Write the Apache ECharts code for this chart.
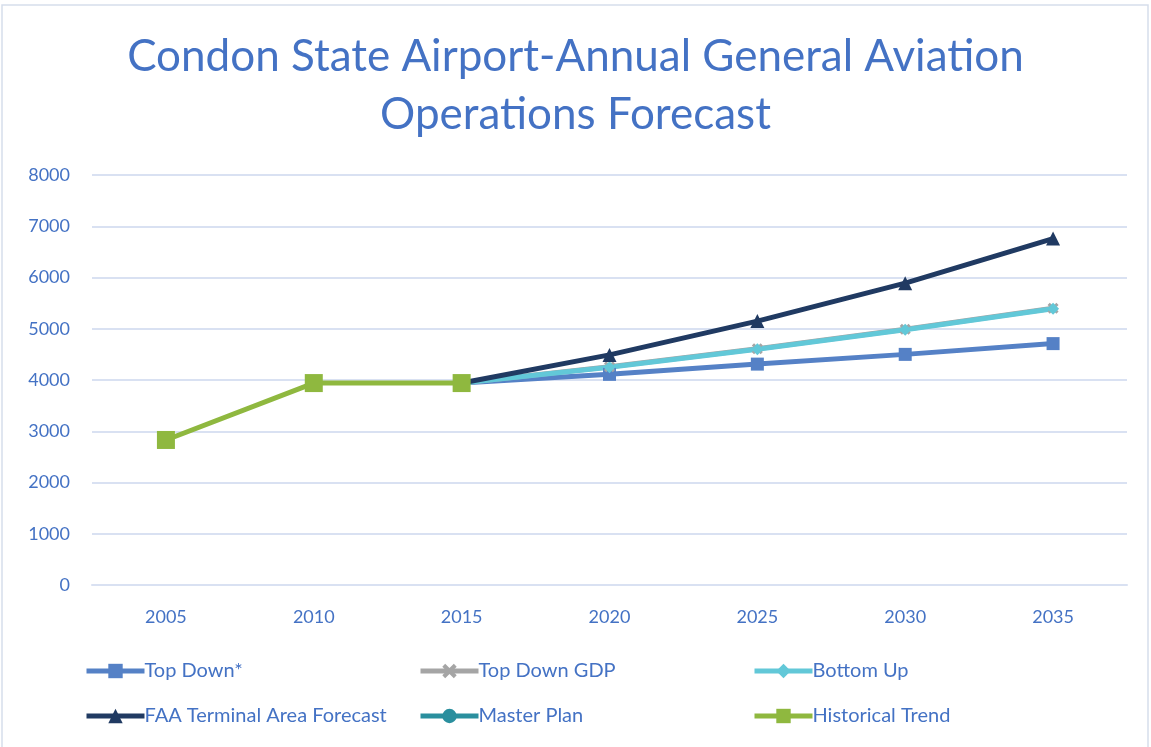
<!DOCTYPE html>
<html>
<head>
<meta charset="utf-8">
<script src="https://cdn.jsdelivr.net/npm/echarts@6/dist/echarts.min.js"></script>
<style>
  html, body { margin: 0; padding: 0; background: #fff; }
  #chart { width: 1151px; height: 747px; }
</style>
</head>
<body>
<div id="chart"></div>
<script>
const years = ['2005', '2010', '2015', '2020', '2025', '2030', '2035'];
const topDown = [null, null, 3940, 4110, 4310, 4500, 4710];
const topDownGdp = [null, null, 3940, 4260, 4610, 4990, 5400];
const bottomUp = [null, null, 3940, 4250, 4600, 4980, 5390];
const faaTaf = [null, null, 3940, 4490, 5150, 5890, 6760];
const masterPlan = [null, null, null, null, null, null, null];
const historical = [2830, 3940, 3940, null, null, null, null];
const yTicks = [0, 1000, 2000, 3000, 4000, 5000, 6000, 7000, 8000];

const textBlue = '#4472C4';
const font = 'Lato';

function line(name, data, color, symbol, size) {
  return {
    name: name,
    type: 'line',
    data: data,
    symbol: symbol,
    symbolSize: size,
    showAllSymbol: true,
    connectNulls: false,
    lineStyle: { color: color, width: 5 },
    itemStyle: { color: color },
    emphasis: { disabled: true },
    animation: false
  };
}

const series = [
  line('Top Down*', topDown, '#5581C6', 'rect', 13),
  line('Top Down GDP', topDownGdp, '#A5A5A5', 'path://M2,0 L5,3 L8,0 L10,2 L7,5 L10,8 L8,10 L5,7 L2,10 L0,8 L3,5 L0,2 Z', 11),
  line('Bottom Up', bottomUp, '#62C8D8', 'diamond', 12),
  line('FAA Terminal Area Forecast', faaTaf, '#203A62', 'triangle', 14),
  line('Master Plan', masterPlan, '#2A8F9E', 'circle', 12),
  line('Historical Trend', historical, '#8FB83F', 'rect', 18)
];

// one legend per entry so the columns line up like the original
const legendPos = [
  [79, 656], [413, 656], [747, 656],
  [79, 701], [413, 701], [747, 701]
];
const legends = series.map((s, i) => ({
  data: [s.name],
  left: legendPos[i][0],
  top: legendPos[i][1],
  itemWidth: 58,
  itemHeight: 18,
  itemGap: 0,
  selectedMode: false,
  lineStyle: { width: 5 },
  textStyle: { color: textBlue, fontSize: 20, fontFamily: font, padding: [0, 0, 0, -5] }
}));

const chart = echarts.init(document.getElementById('chart'));
chart.setOption({
  backgroundColor: '#fff',
  animation: false,
  title: {
    text: 'Condon State Airport-Annual General Aviation\nOperations Forecast',
    left: 'center',
    top: 23,
    textStyle: { color: textBlue, fontSize: 44, fontWeight: 'normal', fontFamily: font, lineHeight: 58 }
  },
  legend: legends,
  grid: { left: 92, right: 24, top: 175, bottom: 162 },
  xAxis: {
    type: 'category',
    data: years,
    boundaryGap: true,
    axisLine: { lineStyle: { color: '#D9E1F2', width: 2 } },
    axisTick: { show: false },
    axisLabel: { color: textBlue, fontSize: 18, fontFamily: font, margin: 23 }
  },
  yAxis: {
    type: 'value',
    min: yTicks[0],
    max: yTicks[yTicks.length - 1],
    interval: 1000,
    axisLine: { show: false },
    axisTick: { show: false },
    axisLabel: { color: textBlue, fontSize: 18, fontFamily: font, margin: 22, formatter: v => String(v) },
    splitLine: { lineStyle: { color: '#D9E1F2', width: 2 } }
  },
  graphic: [{
    type: 'rect',
    shape: { x: 2, y: 5, width: 1146, height: 770 },
    style: { fill: 'none', stroke: '#D6DEEB', lineWidth: 1.5 },
    silent: true,
    z: -1
  }],
  series: series
});
</script>
</body>
</html>
